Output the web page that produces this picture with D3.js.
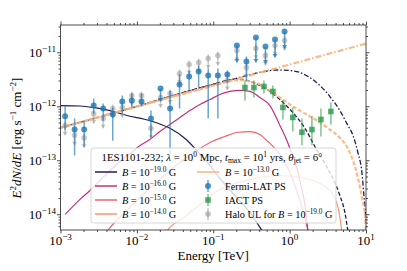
<!DOCTYPE html>
<meta charset="utf-8">
<script src="https://d3js.org/d3.v7.min.js"></script>
<style>
  body { margin: 0; background-color: white; }
  svg { display: block; }
  text { font-family: "Liberation Serif", "DejaVu Serif", serif; fill: #000; }
</style>
<body>
<script>
    // ---- data (E in TeV, E^2 dN/dE in erg s^-1 cm^-2) ----

    // Fermi-LAT point source, flag = upper limit
    const fermiE  = [1.15e-3, 1.53e-3, 2.04e-3, 2.72e-3, 3.62e-3, 4.83e-3, 6.44e-3, 8.59e-3, 1.15e-2, 1.53e-2, 2.04e-2, 2.72e-2,
                     3.62e-2, 4.83e-2, 6.44e-2, 8.59e-2, 0.115, 0.153, 0.204, 0.272, 0.362, 0.483, 0.644, 0.859];
    const fermiF  = [6.5e-13, 3.7e-13, 3.7e-13, 1.03e-12, 9.1e-13, 7.0e-13, 1.22e-12, 1.28e-12, 1.22e-12, 5.9e-13, 2.13e-12, 9.1e-13,
                     2.53e-12, 3.56e-12, 4.40e-12, 3.71e-12, 3.71e-12, 3.87e-12, 1.33e-11, 6.75e-12, 1.87e-11, 1.28e-11, 1.72e-11, 2.42e-11];
    const fermiLo = [3.6e-13, 1.22e-13, 1.8e-13, 7.3e-13, 5.4e-13, 2.3e-13, 7.3e-13, 9.5e-13, 9.9e-13, 2.6e-13, 1.22e-12, 1.2e-13,
                     9.1e-13, 1.96e-12, 2.22e-12, 5.9e-13, 5.9e-13, 2.75e-12, 6.46e-12, 3.0e-12, 6.46e-12, 6.19e-12, 8.0e-12, 1.17e-11];
    const fermiHi = [1.03e-12, 5.9e-13, 5.4e-13, 1.39e-12, 1.12e-12, 9.5e-13, 1.58e-12, 1.72e-12, 1.72e-12, 8.3e-13, 2.13e-12, 1.96e-12,
                     3.87e-12, 4.59e-12, 5.69e-12, 5.0e-12, 5.0e-12, 4.59e-12, 1.33e-11, 8.34e-12, 1.87e-11, 1.28e-11, 1.72e-11, 2.42e-11];
    const fermiUL = [0, 0, 0, 0, 0, 0, 0, 0, 0, 0, 1, 0, 0, 0, 0, 0, 0, 0, 1, 0, 1, 1, 1, 1];

    // halo upper limits for B = 1e-19 G (same energy bins)
    const haloF  = [4.4e-13, 2.9e-13, 2.6e-13, 7.3e-13, 5.9e-13, 9.1e-13, 9.5e-13, 1.58e-12, 1.58e-12, 3.9e-13, 1.45e-12, 1.72e-12,
                    4.04e-12, 5.93e-12, 6.46e-12, 7.66e-12, 8.71e-12, 3.0e-12, 1.08e-11, 5.23e-12, 1.17e-11, 8.71e-12, 1.33e-11, 1.65e-11];
    const haloLo = [2.9e-13, 1.9e-13, 1.7e-13, 4.8e-13, 3.9e-13, 6.0e-13, 6.2e-13, 1.03e-12, 1.03e-12, 2.5e-13, 9.5e-13, 1.12e-12,
                    2.6e-12, 3.9e-12, 4.2e-12, 5.0e-12, 5.7e-12, 2.0e-12, 7.0e-12, 3.4e-12, 7.6e-12, 5.7e-12, 8.7e-12, 1.08e-11];

    // IACT point source
    const iactE  = [0.260, 0.341, 0.461, 0.604, 0.817, 1.10, 1.45, 1.96, 2.57, 3.47];
    const iactF  = [2.22e-12, 2.22e-12, 2.32e-12, 1.88e-12, 9.5e-13, 6.2e-13, 3.3e-13, 3.7e-13, 5.7e-13, 8.0e-13];
    const iactLo = [1.28e-12, 1.45e-12, 1.72e-12, 1.39e-12, 5.7e-13, 3.4e-13, 1.9e-13, 1.9e-13, 2.75e-13, 4.6e-13];
    const iactHi = [3.0e-12, 3.0e-12, 3.0e-12, 2.42e-12, 1.28e-12, 9.5e-13, 5.9e-13, 6.5e-13, 9.1e-13, 1.17e-12];

    // cascade spectra [E, flux]
    const cascadeB19 = [[1.0e-3, 1.03e-12], [1.80e-3, 1.01e-12], [2.66e-3, 9.5e-13], [4.45e-3, 8.3e-13], [7.41e-3, 6.75e-13],
                        [1.48e-2, 5.4e-13], [2.71e-2, 3.9e-13], [4.27e-2, 2.53e-13], [6.12e-2, 1.51e-13], [9.06e-2, 8.0e-14],
                        [0.122, 4.6e-14], [0.192, 2.22e-14], [0.302, 1.08e-14], [0.433, 5.0e-15], [0.5, 3.6e-15]];
    const cascadeB16 = [[1.15e-3, 9.9e-15], [1.80e-3, 1.88e-14], [2.43e-3, 2.75e-14], [3.29e-3, 4.22e-14], [4.45e-3, 6.46e-14],
                        [6.01e-3, 9.5e-14], [8.13e-3, 1.33e-13], [1.10e-2, 1.87e-13], [1.48e-2, 2.42e-13], [2.00e-2, 3.40e-13],
                        [2.71e-2, 4.59e-13], [3.66e-2, 6.2e-13], [4.95e-2, 8.3e-13], [6.70e-2, 1.08e-12], [9.06e-2, 1.33e-12],
                        [0.122, 1.65e-12], [0.166, 1.88e-12], [0.223, 1.96e-12], [0.302, 1.88e-12], [0.408, 1.45e-12],
                        [0.552, 1.03e-12], [0.746, 4.4e-13], [0.923, 2.3e-13], [1.07, 1.33e-13], [1.25, 7.0e-14],
                        [1.41, 3.4e-14], [1.59, 1.45e-14], [1.74, 5.0e-15], [1.8, 4.0e-15]];
    const cascadeB15 = [[3.8e-3, 4.0e-15], [4.19e-3, 5.0e-15], [6.98e-3, 1.08e-14], [1.10e-2, 2.04e-14], [1.73e-2, 3.71e-14],
                        [2.71e-2, 6.46e-14], [4.27e-2, 1.08e-13], [6.70e-2, 1.65e-13], [9.62e-2, 2.22e-13], [0.142, 2.75e-13],
                        [0.210, 3.3e-13], [0.302, 3.4e-13], [0.408, 3.0e-13], [0.520, 2.22e-13], [0.643, 1.65e-13],
                        [0.793, 1.12e-13], [0.979, 6.46e-14], [1.17, 3.4e-14], [1.36, 1.80e-14], [1.59, 8.3e-15], [1.8, 4.0e-15]];
    const cascadeB14 = [[2.2e-2, 4.0e-15], [2.71e-2, 5.7e-15], [4.27e-2, 9.1e-15], [6.70e-2, 1.51e-14], [0.115, 2.75e-14],
                        [0.192, 3.71e-14], [0.302, 4.4e-14], [0.475, 5.0e-14], [0.746, 5.2e-14], [1.17, 5.0e-14],
                        [1.84, 4.4e-14], [2.65, 3.56e-14], [3.37, 2.75e-14], [3.92, 1.96e-14], [4.42, 1.12e-14], [4.9, 4.0e-15]];

    // intrinsic (dash-dot) and absorbed (dashed) source spectra
    const intrinsicB13 = [[1e-3, 4.0e-13], [1e-2, 9.9e-13], [1e-1, 2.42e-12], [1, 5.93e-12], [10, 1.45e-11]];
    const absorbedB13  = [[1e-3, 4.0e-13], [1e-2, 9.9e-13], [0.1, 2.42e-12], [0.166, 2.94e-12], [0.223, 3.06e-12],
                          [0.302, 2.87e-12], [0.408, 2.53e-12], [0.552, 1.96e-12], [0.746, 1.45e-12], [1.01, 1.08e-12],
                          [1.36, 8.3e-13], [1.84, 6.5e-13], [2.49, 5.0e-13], [3.37, 3.7e-13], [4.55, 2.6e-13],
                          [5.79, 1.65e-13], [6.74, 9.9e-14], [7.83, 4.8e-14], [8.84, 2.04e-14], [9.68, 9.5e-15], [10, 5.0e-15]];
    const intrinsicB19 = [[1e-3, 4.0e-13], [1e-2, 9.9e-13], [0.03, 1.58e-12], [0.1, 2.55e-12], [0.2, 3.3e-12],
                          [0.352, 4.05e-12], [0.475, 4.45e-12],
                          [0.683, 4.69e-12], [1.01, 4.59e-12], [1.36, 4.22e-12], [1.84, 3.40e-12], [2.49, 2.42e-12],
                          [3.37, 1.51e-12], [4.55, 8.3e-13], [5.79, 4.4e-13], [6.74, 2.9e-13], [7.83, 1.39e-13],
                          [8.84, 5.9e-14], [9.39, 2.22e-14], [10, 7.7e-15]];
    const absorbedB19  = [[1e-3, 4.0e-13], [1e-2, 1.0e-12], [0.03, 1.59e-12], [0.1, 2.55e-12], [0.166, 3.08e-12],
                          [0.223, 3.18e-12], [0.302, 2.9e-12], [0.408, 2.42e-12], [0.552, 1.88e-12], [0.746, 1.33e-12],
                          [1.10, 7.66e-13], [1.59, 3.9e-13], [2.14, 1.8e-13], [2.90, 8.7e-14], [3.69, 4.6e-14],
                          [4.55, 2.22e-14], [5.29, 1.08e-14], [5.79, 5.0e-15], [6.0, 3.8e-15]];

    const xTickExp = [-3, -2, -1, 0, 1];
    const yTickExp = [-14, -13, -12, -11];
    const fieldLabels = ["\u221219.0", "\u221216.0", "\u221215.0", "\u221214.0", "\u221213.0"];

    // ---- layout ----
    var width = 407, height = 271;
    var plotL = 60.5, plotR = 366, plotT = 25, plotB = 230;

    var colNavy = "#221c4f", colMag = "#c5307e", colRed = "#ec636c", colSalmon = "#f6976e", colOrange = "#fbb47c";
    var colBlue = "#1f77b4", colGreen = "#2a9a4a", colGrey = "#9a9a9a";

    var x = d3.scaleLog().domain([1e-3, 10]).range([plotL, plotR]);
    var y = d3.scaleLog().domain([5.1e-15, 3.2e-11]).range([plotB, plotT]);

    var svg = d3.select("body").append("svg")
        .attr("width", width)
        .attr("height", height);

    svg.append("rect").attr("width", width).attr("height", height).attr("fill", "white");

    svg.append("clipPath").attr("id", "plotclip")
        .append("rect").attr("x", plotL).attr("y", plotT).attr("width", plotR - plotL).attr("height", plotB - plotT);

    // helper for text with super/subscripts
    function rich(sel, parts, size) {
        var shift = 0;
        parts.forEach(function (p) {
            var ts = sel.append("tspan").text(p.t);
            var target = p.sup ? -0.38 * size : (p.sub ? 0.22 * size : 0);
            ts.attr("dy", target - shift);
            shift = target;
            if (p.sup || p.sub) ts.attr("font-size", size * 0.7);
            if (p.i) ts.attr("font-style", "italic");
        });
        return sel;
    }

    // ---- curves ----
    var line = d3.line()
        .x(function (d) { return x(d[0]); })
        .y(function (d) { return y(d[1]); })
        .curve(d3.curveMonotoneX);

    var plot = svg.append("g").attr("clip-path", "url(#plotclip)");

    function curve(data, color, w, dash, op) {
        plot.append("path")
            .attr("d", line(data))
            .attr("fill", "none")
            .attr("stroke", color)
            .attr("stroke-width", w)
            .attr("stroke-opacity", op || 1)
            .attr("stroke-dasharray", dash || null);
    }

    curve(cascadeB14, colSalmon, 1.2);
    curve(cascadeB15, colRed, 1.2);
    curve(cascadeB16, colMag, 1.2);
    curve(cascadeB19, colNavy, 1.2);
    curve(intrinsicB19, colNavy, 1.3, "5,2,1.5,2");
    curve(absorbedB19, colNavy, 1.3, "4,2");
    curve(intrinsicB13, colOrange, 2.2, "6,2,1.5,2", 0.9);
    curve(absorbedB13, colOrange, 2.2, "4,2", 0.9);

    // ---- data points ----
    var pts = svg.append("g").attr("clip-path", "url(#plotclip)");

    function arrowHead(g, cx, cy, color, op) {
        g.append("path")
            .attr("d", "M" + (cx - 2.6) + "," + (cy - 3.5) + "L" + (cx + 2.6) + "," + (cy - 3.5) + "L" + cx + "," + cy + "Z")
            .attr("fill", color).attr("fill-opacity", op);
    }

    // halo upper limits (grey)
    haloF.forEach(function (f, i) {
        var cx = x(fermiE[i]);
        pts.append("line").attr("x1", cx).attr("x2", cx)
            .attr("y1", y(f) - 4).attr("y2", y(haloLo[i]))
            .attr("stroke", colGrey).attr("stroke-width", 1.5).attr("stroke-opacity", 0.55);
        arrowHead(pts, cx, y(haloLo[i]), colGrey, 0.55);
        pts.append("circle").attr("cx", cx).attr("cy", y(f)).attr("r", 2.8)
            .attr("fill", colGrey).attr("fill-opacity", 0.55);
    });

    // Fermi-LAT
    fermiE.forEach(function (e, i) {
        var cx = x(e);
        pts.append("line").attr("x1", cx).attr("x2", cx)
            .attr("y1", y(fermiHi[i])).attr("y2", y(fermiLo[i]))
            .attr("stroke", colBlue).attr("stroke-width", 1.5).attr("stroke-opacity", 0.65);
        if (fermiUL[i]) arrowHead(pts, cx, y(fermiLo[i]), colBlue, 0.75);
        pts.append("circle").attr("cx", cx).attr("cy", y(fermiF[i])).attr("r", 3)
            .attr("fill", colBlue).attr("fill-opacity", 0.8);
    });

    // IACT
    iactE.forEach(function (e, i) {
        var cx = x(e);
        pts.append("line").attr("x1", cx).attr("x2", cx)
            .attr("y1", y(iactHi[i])).attr("y2", y(iactLo[i]))
            .attr("stroke", colGreen).attr("stroke-width", 1.5).attr("stroke-opacity", 0.6);
        pts.append("rect").attr("x", cx - 2.8).attr("y", y(iactF[i]) - 2.8)
            .attr("width", 5.6).attr("height", 5.6)
            .attr("fill", colGreen).attr("fill-opacity", 0.8);
    });

    // ---- axes ----
    var xMajor = xTickExp.map(function (e) { return Math.pow(10, e); });
    var yMajor = yTickExp.map(function (e) { return Math.pow(10, e); });
    var xMinor = [], yMinor = [];
    for (var e = -3; e < 1; e++) for (var m = 2; m < 10; m++) xMinor.push(m * Math.pow(10, e));
    for (var e = -15; e < -10; e++) for (var m = 2; m < 10; m++) {
        var v = m * Math.pow(10, e);
        if (v >= 5.1e-15 && v <= 3.2e-11) yMinor.push(v);
    }

    function drawAxis(axisFn, scale, pos, ticks, size) {
        var g = svg.append("g")
            .attr("transform", pos)
            .call(axisFn(scale).tickValues(ticks).tickSize(size).tickSizeOuter(0).tickFormat(""));
        g.select(".domain").remove();
        g.selectAll(".tick line").attr("stroke", "#222").attr("stroke-width", 0.8);
    }

    [[xMajor, 3.5], [xMinor, 2]].forEach(function (t) {
        drawAxis(d3.axisBottom, x, "translate(0," + plotB + ")", t[0], t[1]);
        drawAxis(d3.axisTop, x, "translate(0," + plotT + ")", t[0], t[1]);
    });
    [[yMajor, 3.5], [yMinor, 2]].forEach(function (t) {
        drawAxis(d3.axisLeft, y, "translate(" + plotL + ",0)", t[0], t[1]);
        drawAxis(d3.axisRight, y, "translate(" + plotR + ",0)", t[0], t[1]);
    });

    svg.append("rect")
        .attr("x", plotL).attr("y", plotT).attr("width", plotR - plotL).attr("height", plotB - plotT)
        .attr("fill", "none").attr("stroke", "#222").attr("stroke-width", 0.8);

    // tick labels
    xTickExp.forEach(function (e) {
        var t = svg.append("text").attr("x", x(Math.pow(10, e))).attr("y", 245)
            .attr("text-anchor", "middle").attr("font-size", 13);
        rich(t, [{ t: "10" }, { t: e < 0 ? "\u2212" + (-e) : "" + e, sup: true }], 13);
    });
    yTickExp.forEach(function (e) {
        var t = svg.append("text").attr("x", 56).attr("y", y(Math.pow(10, e)) + 4.5)
            .attr("text-anchor", "end").attr("font-size", 13);
        rich(t, [{ t: "10" }, { t: "\u2212" + (-e), sup: true }], 13);
    });

    // axis titles
    svg.append("text").attr("x", (plotL + plotR) / 2).attr("y", 260)
        .attr("text-anchor", "middle").attr("font-size", 13).text("Energy [TeV]");

    var yl = svg.append("text")
        .attr("transform", "translate(21," + 138 + ") rotate(-90)")
        .attr("text-anchor", "middle").attr("font-size", 13);
    rich(yl, [{ t: "E", i: true }, { t: "2", sup: true }, { t: "dN", i: true }, { t: "/" }, { t: "dE", i: true },
              { t: " [erg s" }, { t: "\u22121", sup: true }, { t: " cm" }, { t: "\u22122", sup: true }, { t: "]" }], 13);

    // ---- legend ----
    var lg = svg.append("g");
    var lfs = 10.3;
    lg.append("rect").attr("x", 91).attr("y", 148).attr("width", 245).attr("height", 75).attr("rx", 3)
        .attr("fill", "white").attr("fill-opacity", 0.8)
        .attr("stroke", "#cccccc").attr("stroke-width", 0.8);

    var ttl = lg.append("text").attr("x", 212).attr("y", 161).attr("text-anchor", "middle").attr("font-size", 10.8);
    rich(ttl, [{ t: "1ES1101-232; " }, { t: "\u03bb", i: true }, { t: " = 10" }, { t: "0", sup: true }, { t: " Mpc, " },
               { t: "t", i: true }, { t: "max", sub: true }, { t: " = 10" }, { t: "1", sup: true }, { t: " yrs, " },
               { t: "\u03b8", i: true }, { t: "jet", sub: true }, { t: " = 6\u00b0" }], 10.8);

    var rowY = [172, 186, 200, 214];
    var col1Colors = [colNavy, colMag, colRed, colSalmon];

    function fieldLabel(xp, yp, lab) {
        var t = lg.append("text").attr("x", xp).attr("y", yp + 4).attr("font-size", lfs);
        rich(t, [{ t: "B", i: true }, { t: " = 10" }, { t: lab, sup: true }, { t: " G" }], lfs);
    }

    col1Colors.forEach(function (c, i) {
        lg.append("line").attr("x1", 95).attr("x2", 117).attr("y1", rowY[i]).attr("y2", rowY[i])
            .attr("stroke", c).attr("stroke-width", 1.5);
        fieldLabel(122, rowY[i], fieldLabels[i]);
    });

    lg.append("line").attr("x1", 197).attr("x2", 219).attr("y1", rowY[0]).attr("y2", rowY[0])
        .attr("stroke", colOrange).attr("stroke-width", 1.5);
    fieldLabel(225, rowY[0], fieldLabels[4]);

    // marker entries
    lg.append("line").attr("x1", 208).attr("x2", 208).attr("y1", rowY[1] - 6).attr("y2", rowY[1] + 6)
        .attr("stroke", colBlue).attr("stroke-width", 1.5).attr("stroke-opacity", 0.65);
    lg.append("circle").attr("cx", 208).attr("cy", rowY[1]).attr("r", 3).attr("fill", colBlue).attr("fill-opacity", 0.8);
    lg.append("text").attr("x", 225).attr("y", rowY[1] + 4).attr("font-size", lfs).text("Fermi-LAT PS");

    lg.append("line").attr("x1", 208).attr("x2", 208).attr("y1", rowY[2] - 6).attr("y2", rowY[2] + 6)
        .attr("stroke", colGreen).attr("stroke-width", 1.5).attr("stroke-opacity", 0.6);
    lg.append("rect").attr("x", 205.2).attr("y", rowY[2] - 2.8).attr("width", 5.6).attr("height", 5.6)
        .attr("fill", colGreen).attr("fill-opacity", 0.8);
    lg.append("text").attr("x", 225).attr("y", rowY[2] + 4).attr("font-size", lfs).text("IACT PS");

    lg.append("line").attr("x1", 208).attr("x2", 208).attr("y1", rowY[3] - 6).attr("y2", rowY[3] + 6)
        .attr("stroke", colGrey).attr("stroke-width", 1.5).attr("stroke-opacity", 0.6);
    lg.append("circle").attr("cx", 208).attr("cy", rowY[3]).attr("r", 2.8).attr("fill", colGrey).attr("fill-opacity", 0.6);
    var hl = lg.append("text").attr("x", 225).attr("y", rowY[3] + 4).attr("font-size", lfs);
    rich(hl, [{ t: "Halo UL for " }, { t: "B", i: true }, { t: " = 10" }, { t: "\u221219.0", sup: true }, { t: " G" }], lfs);
</script>
</body>
